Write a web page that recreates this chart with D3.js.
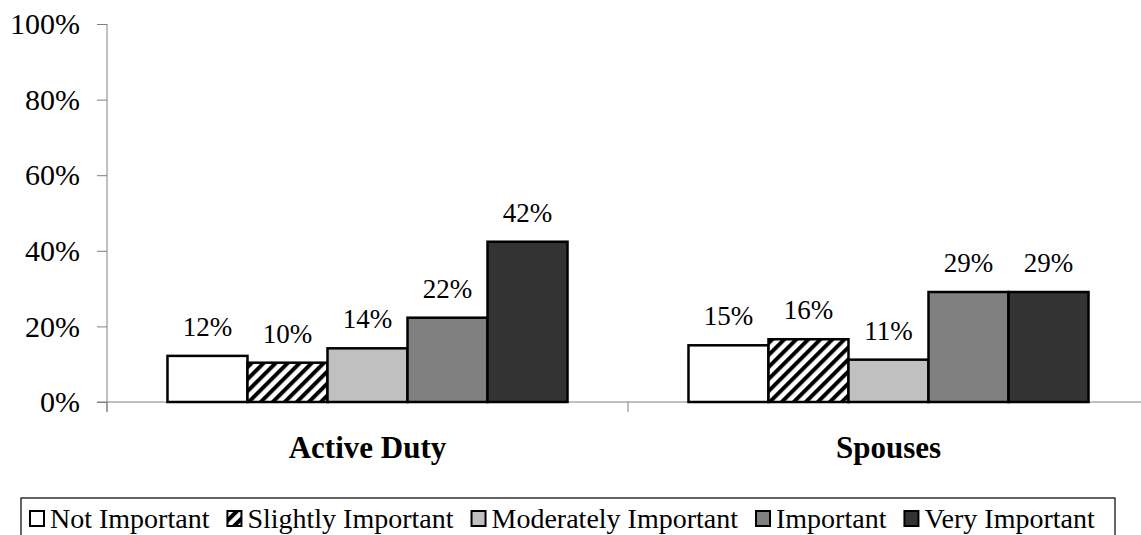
<!DOCTYPE html>
<html><head><meta charset="utf-8">
<script src="https://cdn.jsdelivr.net/npm/d3@7"></script>
<style>body{margin:0;background:#fff}svg{display:block}text{font-family:"Liberation Serif","Times New Roman",serif;fill:#000}</style>
</head><body><svg id="c" width="1141" height="535"></svg>
<script>
const categories = ["Active Duty", "Spouses"];
const series = ["Not Important", "Slightly Important", "Moderately Important", "Important", "Very Important"];
const activeDuty = [12.2, 10.4, 14.2, 22.3, 42.4];
const spouses = [15.0, 16.6, 11.2, 29.1, 29.1];
const activeDutyLabels = ["12%", "10%", "14%", "22%", "42%"];
const spousesLabels = ["15%", "16%", "11%", "29%", "29%"];
const yTicks = [0, 20, 40, 60, 80, 100];
const fills = ["#ffffff", "url(#hatch)", "#c0c0c0", "#808080", "#333333"];

(function(){
const svg = d3.select("#c");
const defs = svg.append("defs");
const pat = defs.append("pattern").attr("id","hatch").attr("patternUnits","userSpaceOnUse")
  .attr("width",8.5).attr("height",8.5).attr("patternTransform","rotate(45)");
pat.append("rect").attr("width",8.5).attr("height",8.5).attr("fill","#fff");
pat.append("rect").attr("x",0).attr("y",0).attr("width",4).attr("height",8.5).attr("fill","#000");

const pLeft = 107, pRight = 1149, pTop = 24, pBottom = 402;
const x0 = d3.scaleBand().domain(categories).range([pLeft, pRight]);
const x1 = d3.scaleBand().domain(series).range([0, x0.bandwidth()]).paddingOuter(0.756);
const y = d3.scaleLinear().domain([0, 100]).range([pBottom, pTop]);

const yAxis = d3.axisLeft(y).tickValues(yTicks).tickFormat(d => d + "%").tickSize(10).tickPadding(17);
const gy = svg.append("g").attr("transform", `translate(${pLeft},0)`).call(yAxis);
gy.select(".domain").attr("stroke", "#808080").attr("d", `M0,${pTop}V${pBottom+10}`);
gy.selectAll(".tick line").attr("stroke", "#808080");
gy.selectAll(".tick text").style("font-size", "30px").attr("fill", "#000");

const xAxis = d3.axisBottom(x0).tickSize(0).tickFormat("");
const gx = svg.append("g").attr("transform", `translate(0,${pBottom})`).call(xAxis);
gx.select(".domain").attr("stroke", "#808080").attr("d", `M${pLeft-10},0H${pRight}`);
gx.selectAll(".tick").remove();
gx.selectAll(".sep").data(categories.map(c => x0(c)).concat([pRight])).enter().append("line")
  .attr("x1", d => d).attr("x2", d => d).attr("y1", 0).attr("y2", 10).attr("stroke", "#808080");

svg.selectAll(".cat").data(categories).enter().append("text")
  .attr("x", d => x0(d) + x0.bandwidth()/2).attr("y", 458)
  .attr("text-anchor", "middle").style("font-size", "31px").style("font-weight", "bold").text(d => d);

const data = [
  {cat: categories[0], vals: activeDuty, labels: activeDutyLabels},
  {cat: categories[1], vals: spouses, labels: spousesLabels}
];
data.forEach(grp => {
  const g = svg.append("g").attr("transform", `translate(${x0(grp.cat)},0)`);
  g.selectAll("rect").data(grp.vals).enter().append("rect")
    .attr("x", (d,i) => x1(series[i])).attr("width", x1.bandwidth())
    .attr("y", d => y(d)).attr("height", d => pBottom - y(d))
    .attr("fill", (d,i) => fills[i]).attr("stroke", "#000").attr("stroke-width", 2.5);
  g.selectAll("text").data(grp.vals).enter().append("text")
    .attr("x", (d,i) => x1(series[i]) + x1.bandwidth()/2).attr("y", d => y(d) - 20)
    .attr("text-anchor", "middle").style("font-size", "27px").text((d,i) => grp.labels[i]);
});

const lg = svg.append("g");
lg.append("rect").attr("x", 21).attr("y", 498).attr("width", 1094).attr("height", 60)
  .attr("fill", "none").attr("stroke", "#000").attr("stroke-width", 1.2);
let cx = 30;
series.forEach((s, i) => {
  lg.append("rect").attr("x", cx).attr("y", 511).attr("width", 14).attr("height", 15)
    .attr("fill", fills[i]).attr("stroke", "#000").attr("stroke-width", 2);
  const t = lg.append("text").attr("x", cx + 20).attr("y", 528).style("font-size", "28px").text(s);
  cx += 20 + t.node().getComputedTextLength() + 18;
});
})();
</script></body></html>
